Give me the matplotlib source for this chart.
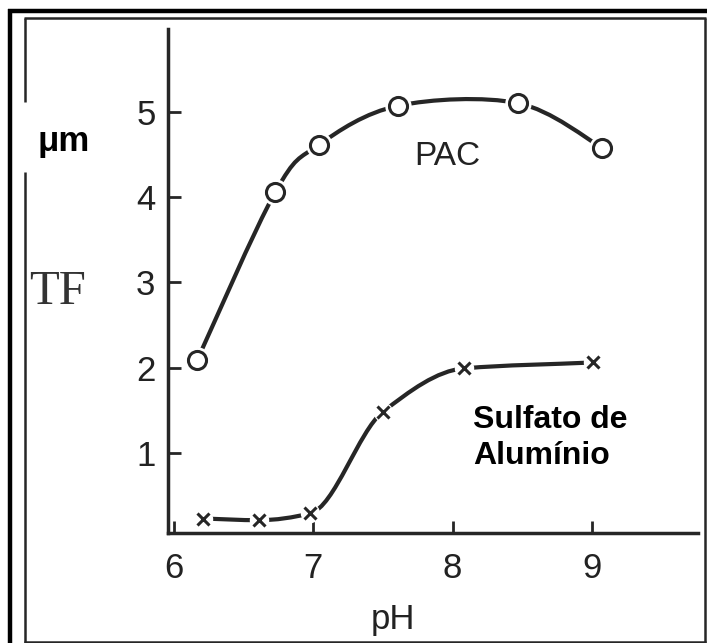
import matplotlib
matplotlib.use('Agg')
import matplotlib.pyplot as plt
from matplotlib.lines import Line2D
from matplotlib.path import Path
from matplotlib.patches import PathPatch

# data
ph_pac = [6.17, 6.73, 7.04, 7.61, 8.47, 9.07]
tf_pac = [2.09, 4.06, 4.61, 5.07, 5.10, 4.58]
ph_sulf = [6.21, 6.61, 6.98, 7.50, 8.08, 9.01]
tf_sulf = [0.23, 0.21, 0.29, 1.48, 1.99, 2.06]
x_ticks = [6, 7, 8, 9]
y_ticks = [1, 2, 3, 4, 5]

W, H = 707, 643
ink = '#262626'
sans = ['Liberation Sans', 'DejaVu Sans']


def smooth_path(xs, ys, monotone=False):
    # bezier segments through the points
    n = len(xs)
    if monotone:
        # pchip-like slopes, no overshoot between flat points
        d = [(ys[i + 1] - ys[i]) / (xs[i + 1] - xs[i]) for i in range(n - 1)]
        m = [d[0]]
        for i in range(1, n - 1):
            if d[i - 1] * d[i] <= 0:
                m.append(0.0)
            else:
                m.append(2 / (1 / d[i - 1] + 1 / d[i]))
        m.append(d[-1])
        verts = [(xs[0], ys[0])]
        for i in range(n - 1):
            h = (xs[i + 1] - xs[i]) / 3
            verts += [(xs[i] + h, ys[i] + m[i] * h),
                      (xs[i + 1] - h, ys[i + 1] - m[i + 1] * h),
                      (xs[i + 1], ys[i + 1])]
    else:
        k = 1 / 6
        verts = [(xs[0], ys[0])]
        for i in range(n - 1):
            x0, y0 = xs[max(i - 1, 0)], ys[max(i - 1, 0)]
            x1, y1 = xs[i], ys[i]
            x2, y2 = xs[i + 1], ys[i + 1]
            x3, y3 = xs[min(i + 2, n - 1)], ys[min(i + 2, n - 1)]
            verts += [(x1 + (x2 - x0) * k, y1 + (y2 - y0) * k),
                      (x2 - (x3 - x1) * k, y2 - (y3 - y1) * k),
                      (x2, y2)]
    codes = [Path.MOVETO] + [Path.CURVE4] * (3 * (n - 1))
    return Path(verts, codes)


fig = plt.figure(figsize=(W / 100, H / 100), dpi=100)
ax = fig.add_axes([168 / W, 1 - 533 / H, (698 - 168) / W, (533 - 29) / H])

# curves, with a white halo under markers so the line stops short of them
ax.add_patch(PathPatch(smooth_path(ph_pac, tf_pac), fill=False, ec=ink, lw=3,
                       capstyle='round', zorder=2))
ax.add_patch(PathPatch(smooth_path(ph_sulf, tf_sulf, monotone=True), fill=False,
                       ec=ink, lw=3, capstyle='round', zorder=2))
ax.plot(ph_pac, tf_pac, 'o', ms=19, mfc='white', mec='white', mew=0, zorder=3)
ax.plot(ph_pac, tf_pac, 'o', ms=13, mfc='white', mec=ink, mew=2.2, zorder=4)
ax.plot(ph_sulf, tf_sulf, 'o', ms=14, mfc='white', mec='white', mew=0, zorder=3)
ax.plot(ph_sulf, tf_sulf, 'x', ms=8, mec=ink, mew=2.2, zorder=4)

ax.set_xlim(5.96, 9.76)
ax.set_ylim(0.06, 5.97)
ax.set_xticks(x_ticks)
ax.set_yticks(y_ticks)
for s in ['top', 'right']:
    ax.spines[s].set_visible(False)
for s in ['left', 'bottom']:
    ax.spines[s].set_linewidth(2.5)
    ax.spines[s].set_color(ink)
ax.tick_params(direction='in', length=9, width=2, color=ink, labelcolor='#222222')
ax.tick_params(axis='x', pad=14)
ax.tick_params(axis='y', pad=9)
for lab in ax.get_xticklabels() + ax.get_yticklabels():
    lab.set_family(sans)
    lab.set_fontsize(25)

# labels and annotations
fig.text(393 / W, 1 - 620 / H, 'pH', family=sans, fontsize=25,
         color='#222222', ha='center', va='center')
fig.text(58 / W, 1 - 292 / H, 'TF', family=['Liberation Serif', 'DejaVu Serif'],
         fontsize=35, color='#333333', ha='center', va='center')
fig.text(38 / W, 1 - 141 / H, 'μm', family=sans,
         fontsize=25, fontweight='bold', ha='left', va='center')
ax.text(7.96, 4.47, 'PAC', family=sans, fontsize=24, color='#222222',
        ha='center', va='center')
fig.text(473 / W, 1 - 438 / H, 'Sulfato de\nAlumínio',
         family=sans, fontsize=23,
         fontweight='bold', ha='left', va='center', linespacing=1.3)

# double frame around the figure
def frame_line(xs, ys, lw, color):
    fig.add_artist(Line2D([x / W for x in xs], [1 - y / H for y in ys],
                          lw=lw, color=color, solid_capstyle='butt'))

frame_line([8, 707], [11, 11], 3.2, 'black')
frame_line([10, 10], [9, 643], 3.2, 'black')
frame_line([24, 706], [18, 18], 1.8, ink)
frame_line([705, 705], [18, 643], 1.8, ink)
frame_line([24, 706], [641.5, 641.5], 1.8, ink)
frame_line([24.5, 24.5], [18, 102], 1.8, ink)
frame_line([24.5, 24.5], [172, 643], 1.8, ink)

fig.savefig('out.png', dpi=100)
